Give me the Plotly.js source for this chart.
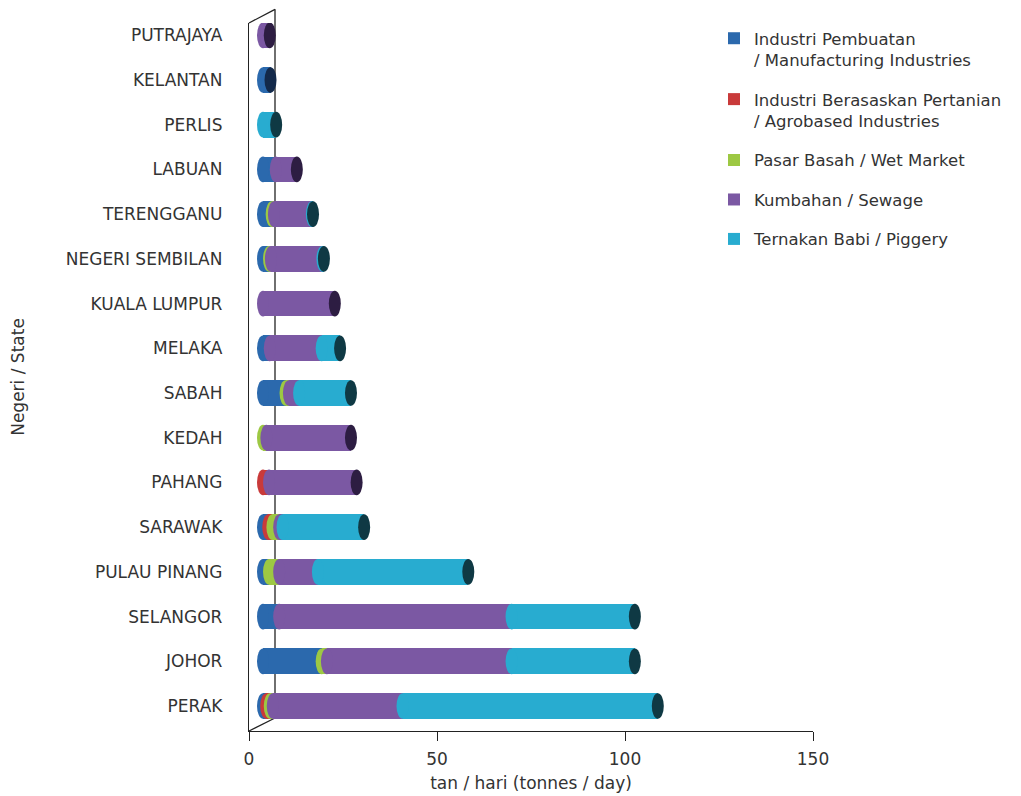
<!DOCTYPE html>
<html>
<head>
<meta charset="utf-8">
<script src="https://cdn.plot.ly/plotly-3.0.1.min.js"></script>
<style>html,body{margin:0;padding:0;background:#fff;}#chart{width:1021px;height:796px;}</style>
</head>
<body>
<div id="chart"></div>
<script>
// Categories listed top to bottom
const categories = ["PUTRAJAYA","KELANTAN","PERLIS","LABUAN","TERENGGANU","NEGERI SEMBILAN","KUALA LUMPUR","MELAKA","SABAH","KEDAH","PAHANG","SARAWAK","PULAU PINANG","SELANGOR","JOHOR","PERAK"];
const manufacturing = [0, 2.0, 0, 3.4, 2.3, 1.6, 0, 1.8, 6.0, 0, 0, 1.4, 1.6, 4.3, 15.6, 0.85];
const agrobased     = [0, 0, 0, 0, 0, 0, 0, 0, 0, 0, 1.6, 1.1, 0, 0, 0, 0.95];
const wetMarket     = [0, 0, 0, 0, 0.6, 0.5, 0, 0, 0.9, 0.9, 0, 1.8, 2.7, 0, 1.4, 0.8];
const sewage        = [1.8, 0, 0, 5.6, 10.1, 13.7, 19.1, 13.8, 2.7, 22.5, 23.3, 0.9, 10.3, 61.8, 49.1, 34.5];
const piggery       = [0, 0, 3.5, 0, 0.3, 0.4, 0, 4.9, 13.8, 0, 0, 21.7, 40.0, 32.8, 32.8, 67.9];

const seriesNames = [
  "Industri Pembuatan<br>/ Manufacturing Industries",
  "Industri Berasaskan Pertanian<br>/ Agrobased Industries",
  "Pasar Basah / Wet Market",
  "Kumbahan / Sewage",
  "Ternakan Babi / Piggery"
];
const xTickVals = [0, 50, 100, 150];

const seriesData = [manufacturing, agrobased, wetMarket, sewage, piggery];
const colors = ["#2b69ad", "#c93a3a", "#9dc843", "#7b58a3", "#28acd0"];
const capColors = ["#13294a", "#5a1717", "#3f5a18", "#2d1d42", "#0f3944"];

const BAR_W = 0.575;
const HALF_H = BAR_W / 2;
const PX_PER_UNIT = 564 / 150;
const HALF_W = 6 / PX_PER_UNIT;
const DEPTH = 14 / PX_PER_UNIT;

const traces = seriesData.map((vals, k) => ({
  type: "bar",
  orientation: "h",
  y: categories,
  x: vals,
  name: seriesNames[k],
  legendgroup: "g" + k,
  xaxis: "x2",
  yaxis: "y",
  width: BAR_W,
  marker: {color: colors[k], line: {width: 0}},
  hoverinfo: "x+name"
}));
// empty helper trace so that the front x axis (x/y subplot) is drawn
traces.unshift({type: "scatter", mode: "markers", x: [null], y: [categories[0]], xaxis: "x", yaxis: "y",
  showlegend: false, hoverinfo: "skip", marker: {opacity: 0}});

const shapes = [];
// back wall of the 3D frame
const bx = 26 / 564;
shapes.push({type:"line", xref:"paper", yref:"paper", x0:bx, x1:bx, y0:13/708, y1:(731-9.3)/708, line:{color:"#222", width:1.3}, layer:"below"});
shapes.push({type:"line", xref:"paper", yref:"paper", x0:0, x1:bx, y0:1, y1:(731-9.3)/708, line:{color:"#222", width:1.3}, layer:"below"});
shapes.push({type:"line", xref:"paper", yref:"paper", x0:0, x1:bx, y0:0, y1:13/708, line:{color:"#222", width:1.3}, layer:"below"});

categories.forEach((cat, i) => {
  let s = 0, last = -1;
  seriesData.forEach((vals, k) => {
    const v = vals[i];
    if (v > 0) {
      shapes.push({type:"circle", xref:"x2", yref:"y", x0:s-HALF_W, x1:s+HALF_W, y0:i-HALF_H, y1:i+HALF_H,
        fillcolor: colors[k], line:{width:0}, layer:"above"});
      s += v; last = k;
    }
  });
  shapes.push({type:"circle", xref:"x2", yref:"y", x0:s-HALF_W, x1:s+HALF_W, y0:i-HALF_H, y1:i+HALF_H,
    fillcolor: capColors[last], line:{width:0}, layer:"above"});
});

const FAMILY = "DejaVu Sans, sans-serif";
const font = {family: FAMILY, size: 17, color: "#333"};

const layout = {
  width: 1021, height: 796,
  margin: {l: 249, r: 208, t: 23, b: 65},
  paper_bgcolor: "#fff", plot_bgcolor: "rgba(0,0,0,0)",
  barmode: "stack",
  font: font,
  showlegend: true,
  legend: {x: (714-249)/564, xanchor: "left", y: (731-21)/708, yanchor: "top", valign: "top",
    font: {family: FAMILY, size: 16.5, color: "#333"}, tracegroupgap: 15, bgcolor: "rgba(0,0,0,0)"},
  xaxis: {range: [0, 150], tickvals: xTickVals, ticktext: xTickVals.map(String), ticks: "outside", ticklen: 9, tickcolor: "#222",
    showline: true, linecolor: "#222", linewidth: 1.3, showgrid: false, zeroline: false, fixedrange: true, anchor: "y",
    tickfont: {size: 17, color: "#333"}, ticklabelstandoff: 3,
    title: {text: "tan / hari (tonnes / day)", font: {size: 17, color: "#333"}, standoff: 9}},
  xaxis2: {overlaying: "x", anchor: "y", range: [-DEPTH, 150 - DEPTH], visible: false, showgrid: false, zeroline: false},
  yaxis: {type: "category", categoryarray: categories, categoryorder: "array", range: [15.559, -0.275],
    showline: true, linecolor: "#222", linewidth: 1.3, ticks: "outside", ticklen: 22, tickcolor: "rgba(0,0,0,0)",
    showgrid: false, zeroline: false, tickfont: {size: 17, color: "#333"},
    title: {text: "Negeri / State", font: {size: 17, color: "#333"}, standoff: 36}},
  shapes: shapes
};

Plotly.newPlot("chart", traces, layout, {displayModeBar: false});
</script>
</body>
</html>
